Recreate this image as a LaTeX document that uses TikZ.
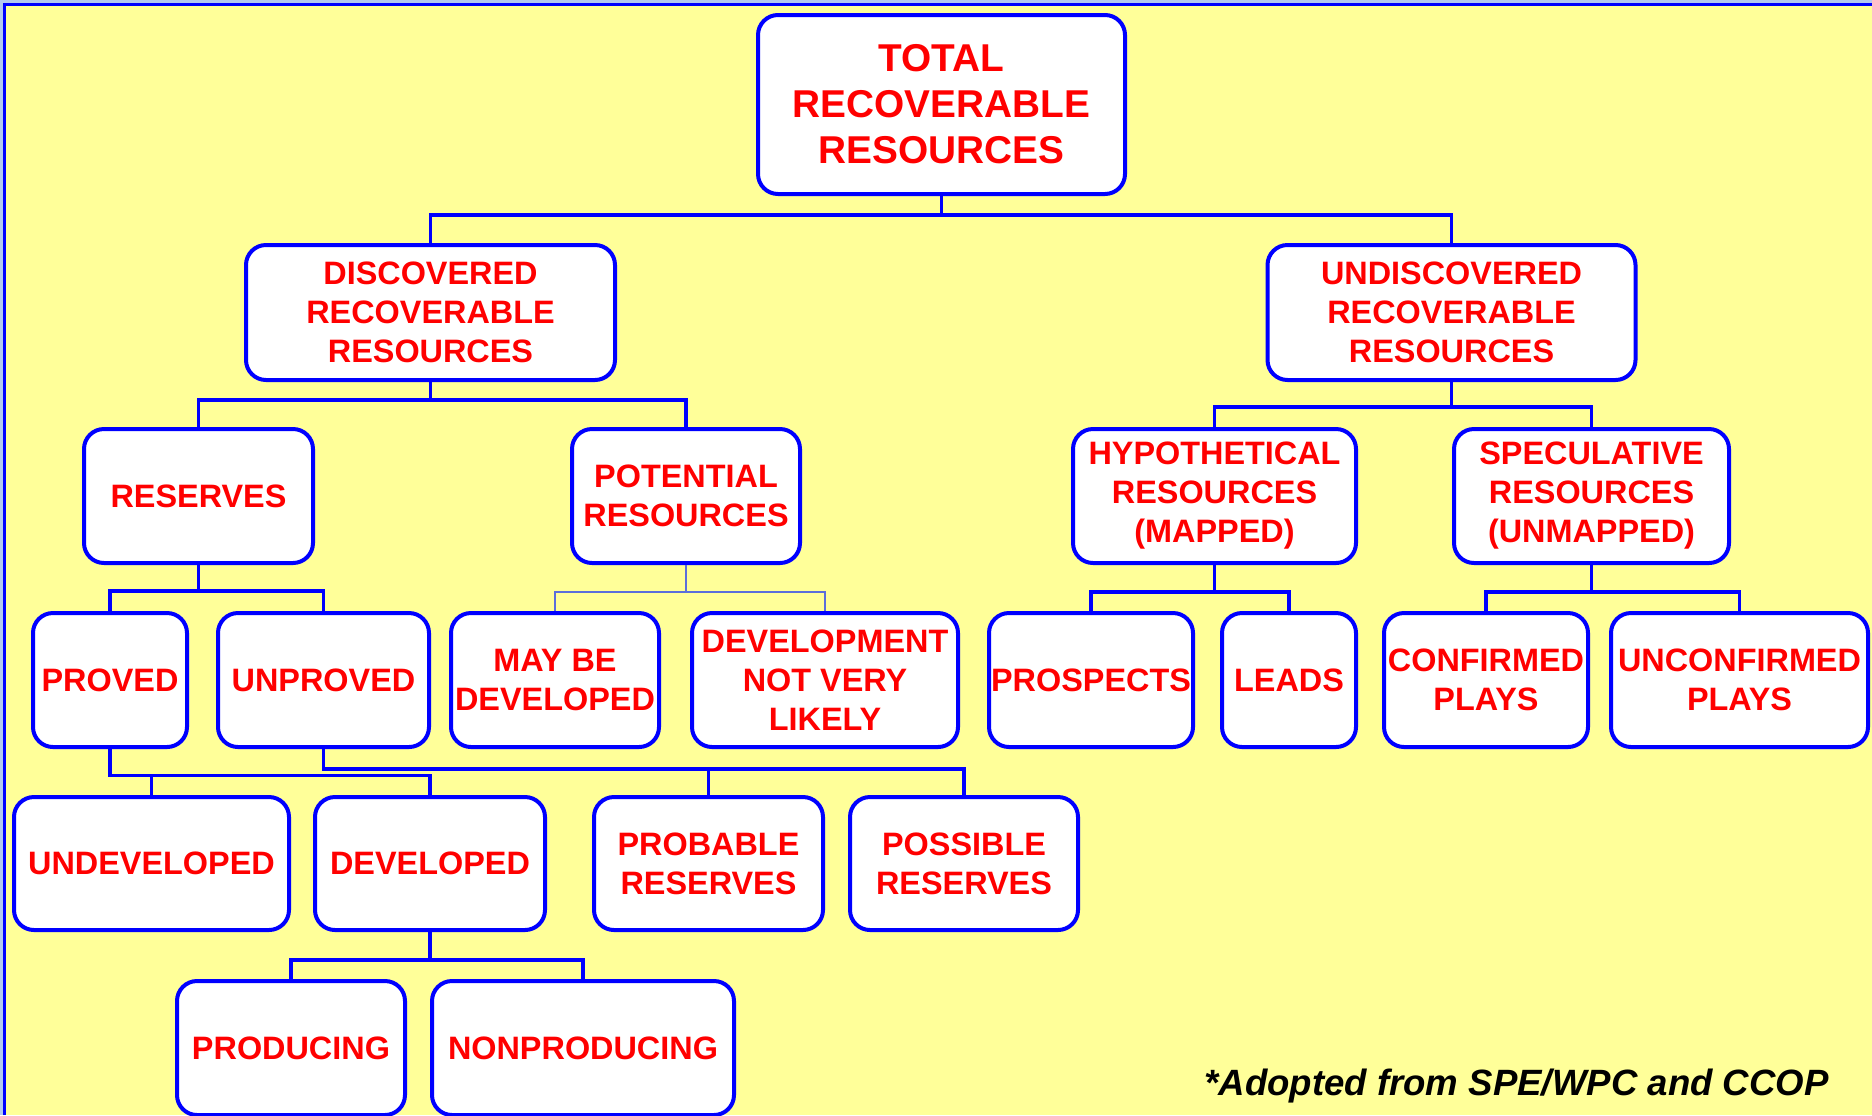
\documentclass[tikz,border=0pt]{standalone}
\usepackage{fontspec}
\setmainfont{Liberation Sans}
\definecolor{bg}{HTML}{FFFF99}
\definecolor{bord}{HTML}{0000FF}
\definecolor{txt}{HTML}{FF0000}
\definecolor{chrome}{HTML}{B4C8F0}
\definecolor{thinblue}{HTML}{5A6EDC}
\tikzset{
  box/.style 2 args={draw=bord, line width=2pt, fill=white, rounded corners=10pt,
    minimum width={#1*0.5pt-2pt}, minimum height={#2*0.5pt-2pt}, align=center,
    text=txt, font=\fontsize{16.2}{19.5}\selectfont\bfseries, inner sep=0pt},
  conn/.style={draw=bord, line width=1.8pt},
  thinconn/.style={draw=thinblue, line width=0.6pt},
}
\begin{document}
\begin{tikzpicture}[x=0.5pt,y=-0.5pt]
\useasboundingbox (0,0) rectangle (1872,1115);
\clip (0,0) rectangle (1872,1115);
\fill[chrome] (0,0) rectangle (1872,1115);
\fill[bg] (6,6) rectangle (1872,1115);
\draw[bord, line width=1.5pt] (4.5,1115) -- (4.5,4.5) -- (1872,4.5);

% level 1
\node[box={371}{183}, font=\fontsize{19.4}{23}\selectfont\bfseries] (total) at (941.5,104.5) {TOTAL\\RECOVERABLE\\RESOURCES};
% level 2
\node[box={373}{139}] (disc) at (430.5,312.5) {DISCOVERED\\RECOVERABLE\\RESOURCES};
\node[box={372}{139}] (undisc) at (1451.5,312.5) {UNDISCOVERED\\RECOVERABLE\\RESOURCES};
% level 3
\node[box={233}{138}] (reserves) at (198.5,496) {RESERVES};
\node[box={232}{138}] (potential) at (686,496) {POTENTIAL\\RESOURCES};
\node[box={287}{138}] (hypo) at (1214.5,496) {HYPOTHETICAL\\RESOURCES\\(MAPPED)};
\node[box={279}{138}] (spec) at (1591.5,496) {SPECULATIVE\\RESOURCES\\(UNMAPPED)};
% level 4
\node[box={158}{138}] (proved) at (110,680) {PROVED};
\node[box={215}{138}] (unproved) at (323.5,680) {UNPROVED};
\node[box={212}{138}] (maybe) at (555,680) {MAY BE\\DEVELOPED};
\node[box={270}{138}] (devnot) at (825,680) {DEVELOPMENT\\NOT VERY\\LIKELY};
\node[box={208}{138}] (prospects) at (1091,680) {PROSPECTS};
\node[box={138}{138}] (leads) at (1289,680) {LEADS};
\node[box={208}{138}] (confirmed) at (1486,680) {CONFIRMED\\PLAYS};
\node[box={261}{138}] (unconfirmed) at (1739.5,680) {UNCONFIRMED\\PLAYS};
% level 5
\node[box={279}{137}] (undeveloped) at (151.5,863.5) {UNDEVELOPED};
\node[box={234}{137}] (developed) at (430,863.5) {DEVELOPED};
\node[box={233}{137}] (probable) at (708.5,863.5) {PROBABLE\\RESERVES};
\node[box={232}{137}] (possible) at (964,863.5) {POSSIBLE\\RESERVES};
% level 6
\node[box={232}{138}] (producing) at (291,1048) {PRODUCING};
\node[box={306}{138}] (nonproducing) at (583,1048) {NONPRODUCING};

% connectors
\coordinate (j1) at (941.5,215);
\draw[conn] (total.south) -- (j1);
\draw[conn] (disc.north) |- (j1) -| (undisc.north);

\coordinate (j2) at (430.5,400);
\draw[conn] (disc.south) -- (j2);
\draw[conn] (reserves.north) |- (j2) -| (potential.north);

\coordinate (j3) at (1451.5,407);
\draw[conn] (undisc.south) -- (j3);
\draw[conn] (hypo.north) |- (j3) -| (spec.north);

\coordinate (j4) at (198.5,591);
\draw[conn] (reserves.south) -- (j4);
\draw[conn] (proved.north) |- (j4) -| (unproved.north);

\coordinate (j5) at (686,592);
\draw[thinconn] (potential.south) -- (j5);
\draw[thinconn] (maybe.north) |- (j5) -| (devnot.north);

\coordinate (j6) at (1214.5,592);
\draw[conn] (hypo.south) -- (j6);
\draw[conn] (prospects.north) |- (j6) -| (leads.north);

\coordinate (j7) at (1591.5,592);
\draw[conn] (spec.south) -- (j7);
\draw[conn] (confirmed.north) |- (j7) -| (unconfirmed.north);

\coordinate (j8) at (110,775.5);
\draw[conn] (proved.south) -- (j8) -| (developed.north);
\draw[conn] (undeveloped.north) -- (undeveloped.north |- j8);

\coordinate (j9) at (323.5,769);
\draw[conn] (unproved.south) -- (j9) -| (possible.north);
\draw[conn] (probable.north) -- (probable.north |- j9);

\coordinate (j10) at (430,960);
\draw[conn] (developed.south) -- (j10);
\draw[conn] (producing.north) |- (j10) -| (nonproducing.north);

% footnote
\node[anchor=base, inner sep=0pt, font=\fontsize{18.3}{22}\selectfont\bfseries\itshape] (note) at (1516.5,1095) {*Adopted from SPE/WPC and CCOP};
\end{tikzpicture}
\end{document}
